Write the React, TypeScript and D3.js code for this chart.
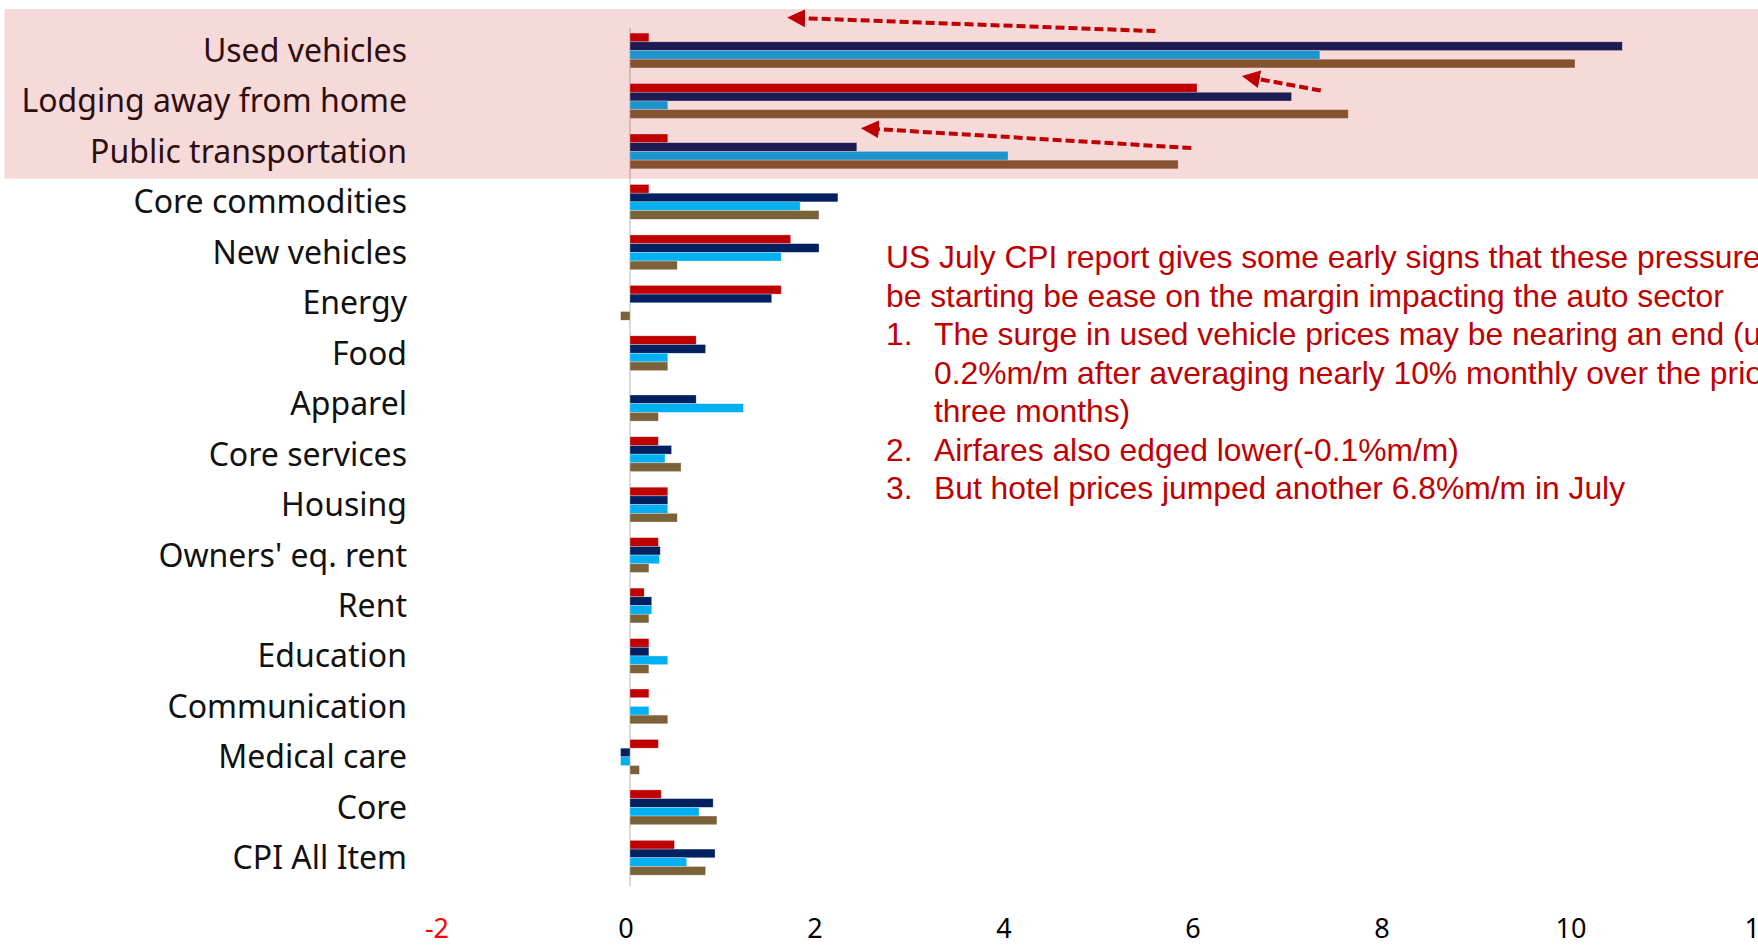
import * as d3 from 'd3';
import React from 'react';

// CPI components, % m/m
const categories = [
  'Used vehicles',
  'Lodging away from home',
  'Public transportation',
  'Core commodities',
  'New vehicles',
  'Energy',
  'Food',
  'Apparel',
  'Core services',
  'Housing',
  "Owners' eq. rent",
  'Rent',
  'Education',
  'Communication',
  'Medical care',
  'Core',
  'CPI All Item',
];

const july = [0.2, 6.0, 0.4, 0.2, 1.7, 1.6, 0.7, 0, 0.3, 0.4, 0.3, 0.15, 0.2, 0.2, 0.3, 0.33, 0.47];
const june = [10.5, 7.0, 2.4, 2.2, 2.0, 1.5, 0.8, 0.7, 0.44, 0.4, 0.32, 0.23, 0.2, 0, -0.1, 0.88, 0.9];
const may = [7.3, 0.4, 4.0, 1.8, 1.6, 0, 0.4, 1.2, 0.37, 0.4, 0.31, 0.23, 0.4, 0.2, -0.1, 0.73, 0.6];
const april = [10.0, 7.6, 5.8, 2.0, 0.5, -0.1, 0.4, 0.3, 0.54, 0.5, 0.2, 0.2, 0.2, 0.4, 0.1, 0.92, 0.8];

const seriesColors = ['#c00000', '#002060', '#00b0f0', '#7b6239'];
const xTicks = [-2, 0, 2, 4, 6, 8, 10, 12];

const noteLines = [
  { num: '', text: 'US July CPI report gives some early signs that these pressures may' },
  { num: '', text: 'be starting be ease on the margin impacting the auto sector' },
  { num: '1.', text: 'The surge in used vehicle prices may be nearing an end (up' },
  { num: '', text: '0.2%m/m after averaging nearly 10% monthly over the prior', indent: true },
  { num: '', text: 'three months)', indent: true },
  { num: '2.', text: 'Airfares also edged lower(-0.1%m/m)' },
  { num: '3.', text: 'But hotel prices jumped another 6.8%m/m in July' },
];

// arrows in data units: category, tail x, head x, pixel offsets from band top
const arrows = [
  { cat: 'Used vehicles', from: 5.56, to: 1.72, y0: -2, y1: -15 },
  { cat: 'Lodging away from home', from: 7.31, to: 6.53, y0: 7, y1: -5 },
  { cat: 'Public transportation', from: 5.94, to: 2.5, y0: 14, y1: -5 },
];

const W = 1758;
const H = 947;
const labelFont = '"Noto Sans", "Open Sans", sans-serif';

export default function App() {
  const x = d3.scaleLinear().domain([-2, 12]).range([441, 1764]);
  const y = d3
    .scaleBand<string>()
    .domain(categories)
    .range([25.3, 883])
    .paddingInner(0.31)
    .paddingOuter(0.155);
  const series = [july, june, may, april];
  const sub = d3.scaleBand<number>().domain([0, 1, 2, 3]).range([0, y.bandwidth()]);

  const lastHighlighted = categories[2];
  const shadeTop = 9;
  const shadeBottom = (y(lastHighlighted) as number) + y.step() - (y.step() - y.bandwidth()) / 2 + 2;

  return (
    <svg
      width={W}
      height={H}
      style={{ position: 'absolute', left: 0, top: 0, background: '#fff' }}
    >
      <defs>
        <marker
          id="head"
          viewBox="0 0 10 10"
          refX="2"
          refY="5"
          markerWidth="4.5"
          markerHeight="4.5"
          orient="auto-start-reverse"
        >
          <path d="M0,0 L10,5 L0,10 z" fill="#c00000" />
        </marker>
      </defs>

      {/* zero line */}
      <line x1={x(0)} x2={x(0)} y1={28} y2={886} stroke="#d9d9d9" strokeWidth={2} />

      {/* bars */}
      {categories.map((c, i) => (
        <g key={c} transform={`translate(0,${y(c)})`}>
          {series.map((s, k) =>
            s[i] === 0 ? null : (
              <rect
                key={k}
                x={x(Math.min(0, s[i]))}
                y={sub(k)}
                width={Math.abs(x(s[i]) - x(0))}
                height={sub.bandwidth()}
                fill={seriesColors[k]}
                stroke="#fff"
                strokeOpacity={0.5}
                strokeWidth={0.6}
              />
            )
          )}
        </g>
      ))}

      {/* category labels */}
      {categories.map((c) => (
        <text
          key={c}
          x={407}
          y={(y(c) as number) + y.bandwidth() / 2}
          dy="0.36em"
          textAnchor="end"
          style={{ fontFamily: labelFont, fontSize: 32, fill: '#111' }}
        >
          {c}
        </text>
      ))}

      {/* x tick labels */}
      {xTicks.map((t) => (
        <text
          key={t}
          x={x(t) - 4}
          y={928}
          dy="0.36em"
          textAnchor="middle"
          style={{
            fontFamily: labelFont,
            fontSize: 27,
            fill: t < 0 ? '#ff0000' : '#000',
          }}
        >
          {t}
        </text>
      ))}

      {/* highlight band */}
      <rect
        x={4.5}
        y={shadeTop}
        width={W}
        height={shadeBottom - shadeTop}
        fill="#c00000"
        fillOpacity={0.15}
      />

      {/* arrows */}
      {arrows.map((a) => {
        const base = y(a.cat) as number;
        return (
          <line
            key={a.cat}
            x1={x(a.from)}
            y1={base + a.y0}
            x2={x(a.to) + 9}
            y2={base + a.y1}
            stroke="#c00000"
            strokeWidth={4}
            strokeDasharray="9 4"
            markerEnd="url(#head)"
          />
        );
      })}

      {/* annotation */}
      <g
        style={{
          fontFamily: '"Liberation Sans", Arial, sans-serif',
          fontSize: 31.8,
          fill: '#c00000',
        }}
      >
        {noteLines.map((l, i) => (
          <g key={i}>
            {l.num && (
              <text x={886} y={257 + i * 38.5} dy="0.36em">
                {l.num}
              </text>
            )}
            <text x={l.num || l.indent ? 934 : 886} y={257 + i * 38.5} dy="0.36em">
              {l.text}
            </text>
          </g>
        ))}
      </g>
    </svg>
  );
}
